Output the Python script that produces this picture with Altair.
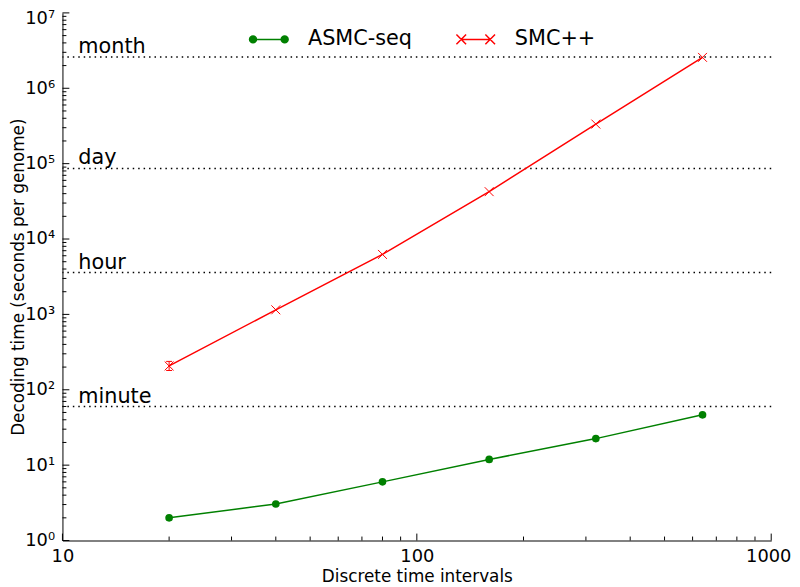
import altair as alt
import pandas as pd

# ---- data ----
intervals = [20, 40, 80, 160, 320, 640]
asmc_seq_time = [2.0, 3.05, 6.0, 11.9, 22.5, 46.5]
smcpp_time = [207, 1150, 6250, 42500, 335000, 2570000]
smcpp_err_interval = [20]
smcpp_err_low = [180]
smcpp_err_high = [238]

series_names = ["ASMC-seq", "SMC++"]
series_colors = ["#008000", "#ff0000"]

ref_names = ["minute", "hour", "day", "month"]
ref_seconds = [60, 3600, 86400, 2592000]

x_ticks = [10, 100, 1000]
x_minor = [20, 30, 40, 50, 60, 70, 80, 90, 200, 300, 400, 500, 600, 700, 800, 900]
y_ticks = [1, 10, 100, 1000, 10000, 100000, 1000000, 10000000]
minor_mult = [2, 3, 4, 5, 6, 7, 8, 9]
y_minor = [m * d for d in y_ticks[:-1] for m in minor_mult]

FONT = "DejaVu Sans"
W, H = 716, 533

df = pd.DataFrame({
    "interval": intervals * 2,
    "time": asmc_seq_time + smcpp_time,
    "series": [series_names[0]] * len(intervals) + [series_names[1]] * len(intervals),
})
err_df = pd.DataFrame({"interval": smcpp_err_interval, "low": smcpp_err_low, "high": smcpp_err_high})
ref_df = pd.DataFrame({"name": ref_names, "seconds": ref_seconds})

xscale = alt.Scale(type="log", domain=[10, 1000])
yscale = alt.Scale(type="log", domain=[1, 10000000])

X_PATH = "M-1,-1L1,1M-1,1L1,-1"
LEG_GREEN = ("M-0.82,0L0.82,0 "
             "M-1,0A0.18,0.18 0 1 0 -0.64,0A0.18,0.18 0 1 0 -1,0Z "
             "M0.64,0A0.18,0.18 0 1 0 1,0A0.18,0.18 0 1 0 0.64,0Z")
LEG_RED = ("M-0.75,0L0.75,0 "
           "M-1,-0.25L-0.5,0.25M-1,0.25L-0.5,-0.25 "
           "M0.5,-0.25L1,0.25M0.5,0.25L1,-0.25")

sup_expr = ("'10' + ['\u2070','\u00b9','\u00b2','\u00b3','\u2074','\u2075','\u2076','\u2077']"
            "[round(log(datum.value)/LN10)]")

x_axis = alt.Axis(values=x_ticks, format="d", title="Discrete time intervals",
                  ticks=False, tickSize=0, labelPadding=7, labelFontSize=18,
                  labelOffset={"condition": {"test": "datum.value >= 1000", "value": -3}, "value": 0},
                  titleFontSize=17, titleFontWeight="normal", titleY=41,
                  titleBaseline="alphabetic", grid=False, labelFlush=False,
                  domainColor="black", domainWidth=1, labelColor="black", titleColor="black")
y_axis = alt.Axis(values=y_ticks, labelExpr=sup_expr,
                  title="Decoding time (seconds per genome)",
                  ticks=False, tickSize=0, labelPadding=8, labelFontSize=18,
                  labelOffset={"condition": {"test": "datum.value >= 10000000", "value": 6}, "value": 0},
                  titleFontSize=17, titleFontWeight="normal", titleAngle=270,
                  titleX=-35, titleY=H / 2, titleBaseline="bottom", titleAlign="center",
                  grid=False, labelFlush=False,
                  domainColor="black", domainWidth=1, labelColor="black", titleColor="black")


def X(field):
    return alt.X(field, scale=xscale, axis=x_axis)


def Y(field):
    return alt.Y(field, scale=yscale, axis=y_axis)


ref_rules = alt.Chart(ref_df).mark_rule(color="black", strokeWidth=1.5, strokeDash=[1.5, 4]).encode(
    y=Y("seconds:Q")
)
ref_text = alt.Chart(ref_df).mark_text(align="left", baseline="alphabetic", dy=-4,
                                       fontSize=21, font=FONT, color="black").encode(
    x=alt.value(16),
    y=Y("seconds:Q"),
    text="name:N",
)


def series_line(i):
    return alt.Chart(df).transform_filter(alt.datum.series == series_names[i]).mark_line(
        strokeWidth=1.5, color=series_colors[i]).encode(x=X("interval:Q"), y=Y("time:Q"))


line_asmc = series_line(0)
line_smc = series_line(1)

err_rule = alt.Chart(err_df).mark_rule(color="#ff0000", strokeWidth=1).encode(
    x=X("interval:Q"),
    y=Y("low:Q"),
    y2="high:Q",
)
err_caps = alt.Chart(err_df).transform_fold(["low", "high"], as_=["end", "val"]).mark_tick(
    orient="horizontal", size=6, thickness=1, color="#ff0000", opacity=1).encode(
    x=X("interval:Q"),
    y=Y("val:Q"),
)

circles = alt.Chart(df).transform_filter(alt.datum.series == series_names[0]).mark_circle(
    size=60, color=series_colors[0], opacity=1).encode(
    x=X("interval:Q"),
    y=Y("time:Q"),
)
xmarks = alt.Chart(df).transform_filter(alt.datum.series == series_names[1]).mark_point(
    shape=X_PATH, size=81, color=series_colors[1], strokeWidth=1, filled=False, opacity=1).encode(
    x=X("interval:Q"),
    y=Y("time:Q"),
)

x_major_ticks = alt.Chart(pd.DataFrame({"v": x_ticks})).mark_rule(color="black", strokeWidth=1).encode(
    x=X("v:Q"), y=alt.value(H), y2=alt.value(H - 7))
x_minor_ticks = alt.Chart(pd.DataFrame({"v": x_minor})).mark_rule(color="black", strokeWidth=1).encode(
    x=X("v:Q"), y=alt.value(H), y2=alt.value(H - 4))
y_major_ticks = alt.Chart(pd.DataFrame({"v": y_ticks})).mark_rule(color="black", strokeWidth=1).encode(
    y=Y("v:Q"), x=alt.value(0), x2=alt.value(7))
y_minor_ticks = alt.Chart(pd.DataFrame({"v": y_minor})).mark_rule(color="black", strokeWidth=1).encode(
    y=Y("v:Q"), x=alt.value(0), x2=alt.value(4))

leg = alt.Legend(title=None, orient="none", legendX=188, legendY=6, direction="horizontal",
                 symbolSize=1521, symbolStrokeWidth=1.5, labelFontSize=21, labelFont=FONT,
                 labelColor="black", labelOffset=19, columnPadding=41, padding=0,
                 symbolOpacity=1, labelLimit=0)
legend_layer = alt.Chart(df).mark_point(filled=True, strokeWidth=1.5, opacity=0).encode(
    x=X("interval:Q"),
    y=Y("time:Q"),
    shape=alt.Shape("series:N", scale=alt.Scale(domain=series_names, range=[LEG_GREEN, LEG_RED]), legend=leg),
    fill=alt.Fill("series:N", scale=alt.Scale(domain=series_names, range=series_colors), legend=leg),
    stroke=alt.Stroke("series:N", scale=alt.Scale(domain=series_names, range=series_colors), legend=leg),
)

chart = alt.layer(
    ref_rules, ref_text, line_asmc, line_smc, err_rule, err_caps, circles, xmarks,
    x_major_ticks, x_minor_ticks, y_major_ticks, y_minor_ticks, legend_layer
).properties(
    width=W, height=H,
    autosize="none",
    padding={"left": 55, "top": 2, "right": 21, "bottom": 44},
).configure(font=FONT).configure_view(stroke=None)

chart.save("out.html", embed_options={"renderer": "svg", "actions": False})
